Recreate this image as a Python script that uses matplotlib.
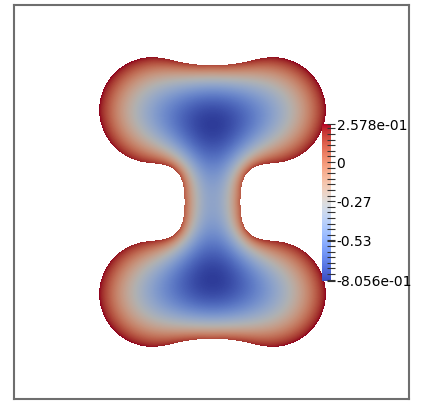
"""Scalar field on a dumbbell-shaped domain, ParaView-style snapshot."""

import numpy as np
import matplotlib
matplotlib.use("Agg")
import matplotlib.pyplot as plt
from matplotlib.colors import Normalize

# colour range and colour-bar labels
VMIN = -0.8056
VMAX = 0.2578
tick_values = [0.2578, 0.0, -0.2656, -0.5313, -0.8056]
tick_labels = ["2.578e-01", "0", "-0.27", "-0.53", "-8.056e-01"]

# domain outline (pixels, relative to the centre, y up)
CENTRE = (212.0, 202.0)
corner_circle = (60.0, 92.0, 52.0)   # x, y, radius of the four rounded lobes
lobe_band = (92.0, 40.0)             # axis height and half thickness of each lobe
neck_half_width = 27.5
SHADE = 0.8                          # the rendered surface is lit, so a bit darker than the bar


def smin(a, b, k):
    h = np.clip(0.5 + 0.5 * (b - a) / k, 0.0, 1.0)
    return b * (1 - h) + a * h - k * h * (1 - h)


def domain_distance(X, Y):
    ax_, ay_ = np.abs(X), np.abs(Y)
    cx, cy, r = corner_circle
    d_circ = np.hypot(ax_ - cx, ay_ - cy) - r
    d_band = np.hypot(np.maximum(ax_ - cx, 0), ay_ - lobe_band[0]) - lobe_band[1]
    d_neck = np.hypot(ax_, np.maximum(ay_ - cy, 0)) - neck_half_width
    return smin(smin(d_circ, d_band, 20.0), d_neck, 40.0)


def poisson(inside, source, iters=1500, omega=1.94):
    # red-black SOR for -lap(v) = source, v = 0 outside
    v = np.zeros(inside.shape)
    ii, jj = np.indices(inside.shape)
    red = inside & ((ii + jj) % 2 == 0)
    black = inside & ((ii + jj) % 2 == 1)
    nb = np.zeros_like(v)
    for _ in range(iters):
        for sel in (red, black):
            nb[1:-1, 1:-1] = v[:-2, 1:-1] + v[2:, 1:-1] + v[1:-1, :-2] + v[1:-1, 2:]
            v = np.where(sel, v + omega * ((nb + source) / 4 - v), v)
    return v


x0, x1, y0, y1 = 90, 336, 45, 360
xs = np.arange(x0, x1) + 0.5
ys = np.arange(y0, y1) + 0.5
PX, PY = np.meshgrid(xs, ys)
X = PX - CENTRE[0]
Y = CENTRE[1] - PY
inside = domain_distance(X, Y) < 0

v = poisson(inside, 1 + 0.4 * np.exp(-(Y / 35.0) ** 2))
g = 1 - 0.12 * np.exp(-(X / 40.0) ** 2) - 0.1 * np.exp(-(Y / 40.0) ** 2)
t = g - v / v.max()
t = (t - t[inside].min()) / (t[inside].max() - t[inside].min())
u = VMIN + t * (VMAX - VMIN)

cmap = plt.get_cmap("coolwarm")
norm = Normalize(VMIN, VMAX)
rgba = cmap(norm(u))
rgba[..., :3] *= SHADE
rgba[..., 3] = inside

fig = plt.figure(figsize=(4.23, 4.05), dpi=100)
ax = fig.add_axes([13.5 / 423, 1 - 399 / 405, (409 - 13.5) / 423, (399 - 5) / 405])
ax.imshow(rgba, interpolation="nearest", extent=(x0, x1, y1, y0), origin="upper")
ax.set_xlim(13.5, 409)
ax.set_ylim(399, 5)
ax.set_xticks([])
ax.set_yticks([])
for spine in ax.spines.values():
    spine.set_color("#6e6e6e")
    spine.set_linewidth(1.5)

cax = fig.add_axes([322 / 423, 1 - 281 / 405, 9 / 423, 157 / 405])
cb = fig.colorbar(plt.cm.ScalarMappable(norm=norm, cmap=cmap), cax=cax)
cb.outline.set_visible(False)
cb.set_ticks(tick_values)
cb.set_ticklabels(tick_labels)
step = 0.2656 / 7
minor = np.concatenate([np.arange(step, VMAX, step), -np.arange(step, -VMIN, step)])
cb.ax.set_yticks(minor, minor=True)
cb.ax.tick_params(which="both", direction="inout", length=6, width=0.8,
                  color="#333333", labelsize=10, pad=1)

fig.savefig("out.png", dpi=100)
plt.close(fig)
